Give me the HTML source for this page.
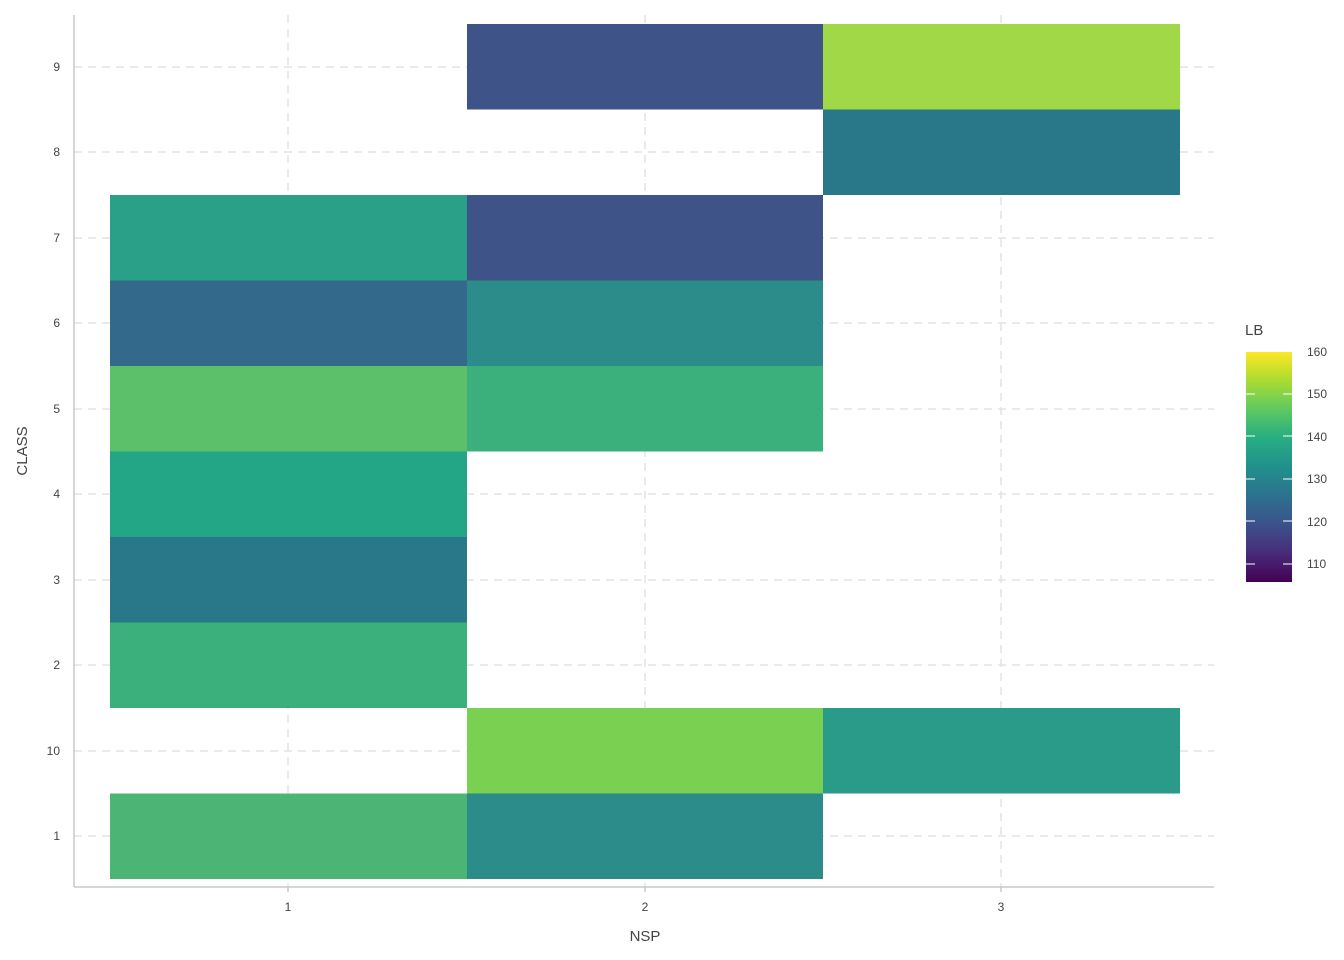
<!DOCTYPE html>
<html><head><style>body{margin:0;background:#fff}svg{display:block}text{font-family:"Liberation Sans",sans-serif}</style></head><body>
<svg width="1344" height="960" xmlns="http://www.w3.org/2000/svg">
<defs><linearGradient id="g" x1="0" y1="1" x2="0" y2="0">
<stop offset="0" stop-color="#440154"/><stop offset="0.13" stop-color="#472d7b"/><stop offset="0.25" stop-color="#3b528b"/><stop offset="0.38" stop-color="#2c728e"/><stop offset="0.5" stop-color="#21918c"/><stop offset="0.63" stop-color="#28ae80"/><stop offset="0.75" stop-color="#5ec962"/><stop offset="0.88" stop-color="#addc30"/><stop offset="1" stop-color="#fde725"/></linearGradient></defs>
<g stroke="#e3e3e3" stroke-width="1.5" stroke-dasharray="8,6">
<line x1="288" y1="15" x2="288" y2="887"/><line x1="645" y1="15" x2="645" y2="887"/><line x1="1001" y1="15" x2="1001" y2="887"/>
<line x1="74" y1="67" x2="1214" y2="67"/><line x1="74" y1="152" x2="1214" y2="152"/><line x1="74" y1="238" x2="1214" y2="238"/><line x1="74" y1="323" x2="1214" y2="323"/><line x1="74" y1="409" x2="1214" y2="409"/><line x1="74" y1="494" x2="1214" y2="494"/><line x1="74" y1="580" x2="1214" y2="580"/><line x1="74" y1="665" x2="1214" y2="665"/><line x1="74" y1="751" x2="1214" y2="751"/><line x1="74" y1="836" x2="1214" y2="836"/>
</g>
<g>
<rect x="467" y="24" width="356" height="85.5" fill="#3e5488"/>
<rect x="823" y="24" width="357" height="85.5" fill="#a0d848"/>
<rect x="823" y="109.5" width="357" height="85.5" fill="#29788a"/>
<rect x="110" y="195" width="357" height="85.5" fill="#29a087"/>
<rect x="467" y="195" width="356" height="85.5" fill="#3e5488"/>
<rect x="110" y="280.5" width="357" height="85.5" fill="#33698a"/>
<rect x="467" y="280.5" width="356" height="85.5" fill="#2c8c8a"/>
<rect x="110" y="366" width="357" height="85.5" fill="#5cbf6a"/>
<rect x="467" y="366" width="356" height="85.5" fill="#3cb07c"/>
<rect x="110" y="451.5" width="357" height="85.5" fill="#22a685"/>
<rect x="110" y="537" width="357" height="85.5" fill="#29788a"/>
<rect x="110" y="622.5" width="357" height="85.5" fill="#3cb07c"/>
<rect x="467" y="708" width="356" height="85.5" fill="#7ad151"/>
<rect x="823" y="708" width="357" height="85.5" fill="#2a9b88"/>
<rect x="110" y="793.5" width="357" height="85.5" fill="#4cb474"/>
<rect x="467" y="793.5" width="356" height="85.5" fill="#2c8c8a"/>
</g>
<g stroke="#c8c8c8" stroke-width="1.5"><line x1="74" y1="15" x2="74" y2="887"/><line x1="74" y1="887" x2="1214" y2="887"/>
<line x1="288" y1="887" x2="288" y2="892"/><line x1="645" y1="887" x2="645" y2="892"/><line x1="1001" y1="887" x2="1001" y2="892"/></g>
<g font-size="12" fill="#444" text-anchor="end">
<text x="60" y="71">9</text><text x="60" y="156">8</text><text x="60" y="242">7</text><text x="60" y="327">6</text><text x="60" y="413">5</text><text x="60" y="498">4</text><text x="60" y="584">3</text><text x="60" y="669">2</text><text x="60" y="755">10</text><text x="60" y="840">1</text></g>
<g font-size="12" fill="#444" text-anchor="middle"><text x="288" y="911">1</text><text x="645" y="911">2</text><text x="1001" y="911">3</text></g>
<text x="645" y="941" font-size="15" fill="#444" text-anchor="middle">NSP</text>
<text x="27" y="451" font-size="15" fill="#444" text-anchor="middle" transform="rotate(-90 27 451)">CLASS</text>
<text x="1245" y="335" font-size="15" fill="#444">LB</text>
<rect x="1246" y="352" width="46" height="230" fill="url(#g)"/>
<g stroke="#fff" stroke-width="1"><path d="M1246 394h9M1283 394h9M1246 436h9M1283 436h9M1246 479h9M1283 479h9M1246 521h9M1283 521h9M1246 564h9M1283 564h9"/></g>
<g font-size="12" fill="#444"><text x="1307" y="356">160</text><text x="1307" y="398">150</text><text x="1307" y="441">140</text><text x="1307" y="483">130</text><text x="1307" y="526">120</text><text x="1307" y="568">110</text></g>
</svg></body></html>
